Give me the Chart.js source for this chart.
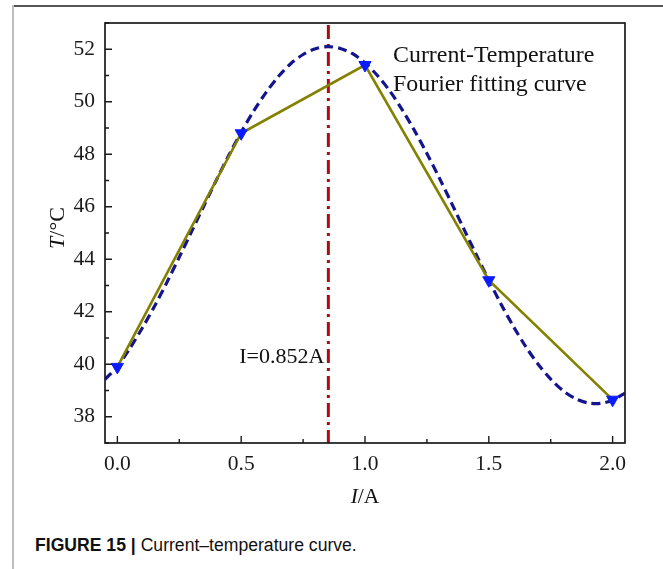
<!DOCTYPE html>
<html>
<head>
<meta charset="utf-8">
<script src="https://cdn.jsdelivr.net/npm/chart.js@4.4.1/dist/chart.umd.min.js"></script>
<style>
  html, body { margin: 0; padding: 0; background: #fff; }
  #wrap { position: relative; width: 663px; height: 569px; overflow: hidden; }
  #frameTop { position: absolute; left: 12px; top: 5px; width: 651px; height: 2px; background: #555; }
  #frameLeft { position: absolute; left: 12px; top: 5px; width: 2px; height: 564px; background: #bdbdbd; }
  #chartBox { position: absolute; left: 0; top: 0; width: 663px; height: 520px; }
  #caption { position: absolute; left: 35px; top: 535px; font-family: "Liberation Sans", Arial, sans-serif; font-size: 17.6px; color: #111; white-space: nowrap; }
  #caption b { font-weight: bold; }
</style>
</head>
<body>
<div id="wrap">
  <div id="frameTop"></div>
  <div id="frameLeft"></div>
  <div id="chartBox"><canvas id="myChart"></canvas></div>
  <div id="caption"><b>FIGURE 15 |</b> Current–temperature curve.</div>
</div>
<script>
  // *****************Data*****************
  const currents = [0.0, 0.5, 1.0, 1.5, 2.0];
  const temperatures = [39.9, 48.8, 51.4, 43.2, 38.65];

  // Fourier fitting curve
  const fitX = [
    -0.05, 0.0, 0.05, 0.1, 0.15, 0.2, 0.25, 0.3, 0.35, 0.4, 0.45, 0.5, 0.55, 0.6, 0.65,
    0.7, 0.75, 0.8, 0.85, 0.9, 0.95, 1.0, 1.05, 1.1, 1.15, 1.2, 1.25, 1.3, 1.35, 1.4,
    1.45, 1.5, 1.55, 1.6, 1.65, 1.7, 1.75, 1.8, 1.85, 1.9, 1.95, 2.0, 2.05,
  ];
  const fitT = [
    39.42, 39.92, 40.6, 41.37, 42.21, 43.12, 44.08, 45.06, 46.05, 47.02, 47.96, 48.84, 49.64, 50.35, 50.96,
    51.45, 51.8, 52.02, 52.1, 52.03, 51.83, 51.48, 51.0, 50.41, 49.7, 48.9, 48.03, 47.1, 46.13, 45.14,
    44.16, 43.2, 42.28, 41.43, 40.66, 39.99, 39.43, 38.99, 38.69, 38.53, 38.51, 38.63, 38.9,
  ];

  const peakCurrent = 0.852;
  const xTicks = [0.0, 0.5, 1.0, 1.5, 2.0];
  const xMinorTicks = [0.25, 0.75, 1.25, 1.75];
  const yTicks = [38, 40, 42, 44, 46, 48, 50, 52];
  const yMinorTicks = [37, 39, 41, 43, 45, 47, 49, 51, 53];

  const serif = '"Liberation Serif", "Times New Roman", serif';

  // frame, inward ticks, annotations, axis titles
  const decorPlugin = {
    id: "decor",
    beforeDatasetsDraw(chart) {
      const { ctx, chartArea: a, scales } = chart;
      const px = scales.x.getPixelForValue(peakCurrent);
      ctx.save();
      ctx.strokeStyle = "#b00a14";
      ctx.lineWidth = 3;
      ctx.setLineDash([14, 5, 3, 5]);
      ctx.beginPath();
      ctx.moveTo(px, a.top + 2);
      ctx.lineTo(px, a.bottom);
      ctx.stroke();
      ctx.restore();
    },
    afterDraw(chart) {
      const { ctx, chartArea: a, scales } = chart;
      const x = scales.x, y = scales.y;
      ctx.save();
      ctx.strokeStyle = "#1a1a1a";
      ctx.lineWidth = 1.7;
      ctx.strokeRect(a.left, a.top, a.right - a.left, a.bottom - a.top);

      ctx.lineWidth = 1.4;
      ctx.beginPath();
      xTicks.forEach((v) => {
        const p = x.getPixelForValue(v);
        ctx.moveTo(p, a.bottom); ctx.lineTo(p, a.bottom - 7);
      });
      xMinorTicks.forEach((v) => {
        const p = x.getPixelForValue(v);
        ctx.moveTo(p, a.bottom); ctx.lineTo(p, a.bottom - 4);
      });
      yTicks.forEach((v) => {
        const p = y.getPixelForValue(v);
        ctx.moveTo(a.left, p); ctx.lineTo(a.left + 7, p);
      });
      yMinorTicks.forEach((v) => {
        const p = y.getPixelForValue(v);
        ctx.moveTo(a.left, p); ctx.lineTo(a.left + 4, p);
      });
      ctx.stroke();

      ctx.fillStyle = "#111";
      ctx.textBaseline = "middle";
      ctx.textAlign = "left";
      ctx.font = `23.9px ${serif}`;
      ctx.fillText("Current-Temperature", 393, 56);
      ctx.fillText("Fourier fitting curve", 393, 85);

      ctx.font = `22px ${serif}`;
      ctx.textAlign = "right";
      ctx.fillText("I=0.852A", x.getPixelForValue(peakCurrent) - 4, 357);

      // x title: I/A
      ctx.textAlign = "left";
      const cx = (a.left + a.right) / 2;
      ctx.font = `italic 21.5px ${serif}`;
      const wI = ctx.measureText("I").width;
      ctx.font = `21.5px ${serif}`;
      const wRest = ctx.measureText("/A").width;
      let sx = cx - (wI + wRest) / 2;
      ctx.font = `italic 21.5px ${serif}`;
      ctx.fillText("I", sx, 497);
      ctx.font = `21.5px ${serif}`;
      ctx.fillText("/A", sx + wI, 497);

      // y title: T/°C
      ctx.translate(58, 228);
      ctx.rotate(-Math.PI / 2);
      ctx.font = `italic 22px ${serif}`;
      const wT = ctx.measureText("T").width;
      ctx.font = `22px ${serif}`;
      const wC = ctx.measureText("/°C").width;
      sx = -(wT + wC) / 2;
      ctx.font = `italic 22px ${serif}`;
      ctx.fillText("T", sx, 0);
      ctx.font = `22px ${serif}`;
      ctx.fillText("/°C", sx + wT, 0);
      ctx.restore();
    },
  };

  const data = {
    datasets: [
      {
        label: "Fourier fitting curve",
        data: fitX.map((v, i) => ({ x: v, y: fitT[i] })),
        borderColor: "#14148c",
        borderWidth: 3.2,
        borderDash: [9, 5],
        pointRadius: 0,
        tension: 0.3,
        order: 2,
      },
      {
        label: "Current-Temperature",
        data: currents.map((v, i) => ({ x: v, y: temperatures[i] })),
        borderColor: "#848000",
        borderWidth: 2.6,
        pointStyle: "triangle",
        rotation: 180,
        pointRadius: 7,
        pointBackgroundColor: "#0a1cff",
        pointBorderColor: "#0a1cff",
        pointBorderWidth: 1,
        tension: 0,
        order: 1,
      },
    ],
  };

  const config = {
    type: "line",
    data: data,
    plugins: [decorPlugin],
    options: {
      responsive: false,
      animation: false,
      layout: { padding: { left: 0, right: 38, top: 23, bottom: 0 } },
      plugins: {
        legend: { display: false },
        tooltip: { enabled: false },
      },
      scales: {
        x: {
          type: "linear",
          min: -0.05,
          max: 2.05,
          afterBuildTicks: (scale) => { scale.ticks = xTicks.map((v) => ({ value: v })); },
          afterFit: (scale) => { scale.height = 77; },
          grid: { display: false, drawTicks: false },
          border: { display: false },
          ticks: {
            padding: 8,
            color: "#1a1a1a",
            font: { family: serif, size: 21.5 },
            callback: (v) => v.toFixed(1),
          },
        },
        y: {
          type: "linear",
          min: 37,
          max: 53,
          afterBuildTicks: (scale) => { scale.ticks = yTicks.map((v) => ({ value: v })); },
          afterFit: (scale) => { scale.width = 105; },
          grid: { display: false, drawTicks: false },
          border: { display: false },
          ticks: {
            padding: 10,
            color: "#1a1a1a",
            font: { family: serif, size: 21.5 },
          },
        },
      },
    },
  };

  const canvas = document.getElementById("myChart");
  canvas.width = 663;
  canvas.height = 520;
  const myChart = new Chart(canvas, config);
</script>
</body>
</html>
